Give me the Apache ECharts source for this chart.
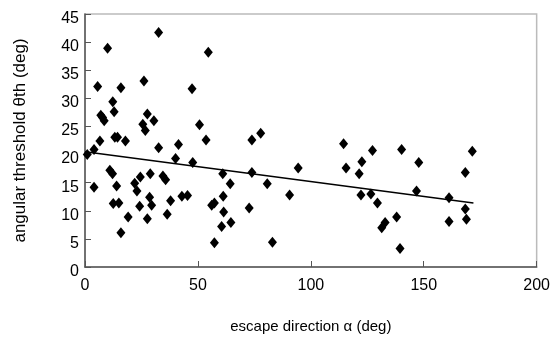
<!DOCTYPE html>
<html>
<head>
<meta charset="utf-8">
<script src="https://cdn.jsdelivr.net/npm/echarts@6/dist/echarts.min.js"></script>
<style>
  html, body { margin: 0; padding: 0; background: #fff; }
  #chart { width: 553px; height: 339px; }
</style>
</head>
<body>
<div id="chart"></div>
<script>
// escape direction (deg), angular threshold (deg)
const alphaValues = [
  32.6, 10, 54.6, 26.1, 5.6, 15.9, 47.4, 12.3, 12.9, 7, 7.8, 8.5,
  27.6, 25.6, 26.7, 30.5, 50.7, 6.6, 13.2, 14.4, 17.9, 53.6,
  1, 4, 32.6, 41.4, 40.1, 47.7, 11, 12.2, 4, 14, 22, 24.5, 28.9,
  34.5, 35.7, 23, 28.6, 12.5, 15, 24.2, 29.5, 37.9, 42.9, 45.4,
  19.1, 27.6, 36.4, 15.9, 61, 64.3, 61.2, 56.1, 57.3, 61.4, 60.5,
  64.6, 57.3, 73.9, 77.8, 114.5, 127.3, 122.6, 115.6, 121.4, 94.4,
  73.9, 80.7, 90.6, 122.2, 126.6, 129.5, 72.7, 132.9, 131.4, 83,
  140.2, 171.5, 147.8, 168.4, 146.8, 161.2, 168.4, 168.9, 161.2,
  138, 139.5
]
const thresholdValues = [
  41.7, 38.9, 38.2, 33.1, 32.1, 31.9, 31.7, 29.4, 27.6, 27.0, 26.6, 26.0,
  27.2, 25.4, 24.3, 26.0, 25.3, 22.4, 23.1, 23.1, 22.4, 22.6,
  20.0, 20.9, 21.2, 21.8, 19.3, 18.6, 17.2, 16.6, 14.2, 14.4, 14.9, 16.0, 16.6,
  16.2, 15.5, 13.5, 12.4, 11.3, 11.4, 10.8, 11.0, 11.8, 12.6, 12.7,
  8.9, 8.6, 9.4, 6.1, 16.6, 14.8, 12.6, 11.0, 11.4, 9.8, 7.2,
  7.9, 4.3, 22.6, 23.8, 21.9, 20.7, 18.7, 17.6, 16.6, 17.6,
  16.8, 14.8, 12.8, 12.8, 13.0, 11.4, 10.5, 7.9, 7.0, 4.4,
  20.9, 20.6, 18.6, 16.8, 13.5, 12.3, 10.3, 8.5, 8.1,
  8.9, 3.3
]
// fitted trend line end points
const trendX = [0, 172]
const trendY = [20.5, 11.4]

const points = alphaValues.map((a, i) => [a, thresholdValues[i]])
const trend = trendX.map((x, i) => [x, trendY[i]])

const chart = echarts.init(document.getElementById("chart"), null, { renderer: "canvas" })
const textColor = "#000"
const font = "Liberation Sans, Arial, sans-serif"

chart.setOption({
  animation: false,
  grid: {
    left: 85,
    right: 14,
    top: 14,
    bottom: 68,
    show: true,
    borderColor: "#bbb",
    borderWidth: 1.5,
  },
  xAxis: {
    type: "value",
    min: 0,
    max: 200,
    interval: 50,
    name: "escape direction α (deg)",
    nameLocation: "middle",
    nameGap: 52,
    nameTextStyle: { color: textColor, fontSize: 15, fontFamily: font },
    axisLine: { show: true, lineStyle: { color: "#555", width: 1.5 } },
    axisTick: { show: true, inside: true, length: 6, lineStyle: { color: "#555" } },
    axisLabel: { color: textColor, fontSize: 16, fontFamily: font, margin: 11 },
    splitLine: { show: false },
  },
  yAxis: {
    type: "value",
    min: 0,
    max: 45,
    interval: 5,
    name: "angular threshold θth (deg)",
    nameLocation: "middle",
    nameGap: 56,
    nameTextStyle: { color: textColor, fontSize: 17, fontFamily: font },
    axisLine: { show: true, lineStyle: { color: "#555", width: 1.5 } },
    axisTick: { show: true, inside: true, length: 6, lineStyle: { color: "#555" } },
    axisLabel: {
      margin: 6,
      formatter: (v) => "{t|" + v + "}",
      rich: {
        t: { color: textColor, fontSize: 16, fontFamily: font, padding: [9, 0, 0, 0] },
      },
    },
    splitLine: { show: false },
  },
  series: [
    {
      type: "scatter",
      data: points,
      symbol: "diamond",
      symbolSize: [9, 11],
      itemStyle: { color: "#000", opacity: 1 },
    },
    {
      type: "line",
      data: trend,
      symbol: "none",
      lineStyle: { color: "#000", width: 1.5 },
    },
  ],
})
</script>
</body>
</html>
